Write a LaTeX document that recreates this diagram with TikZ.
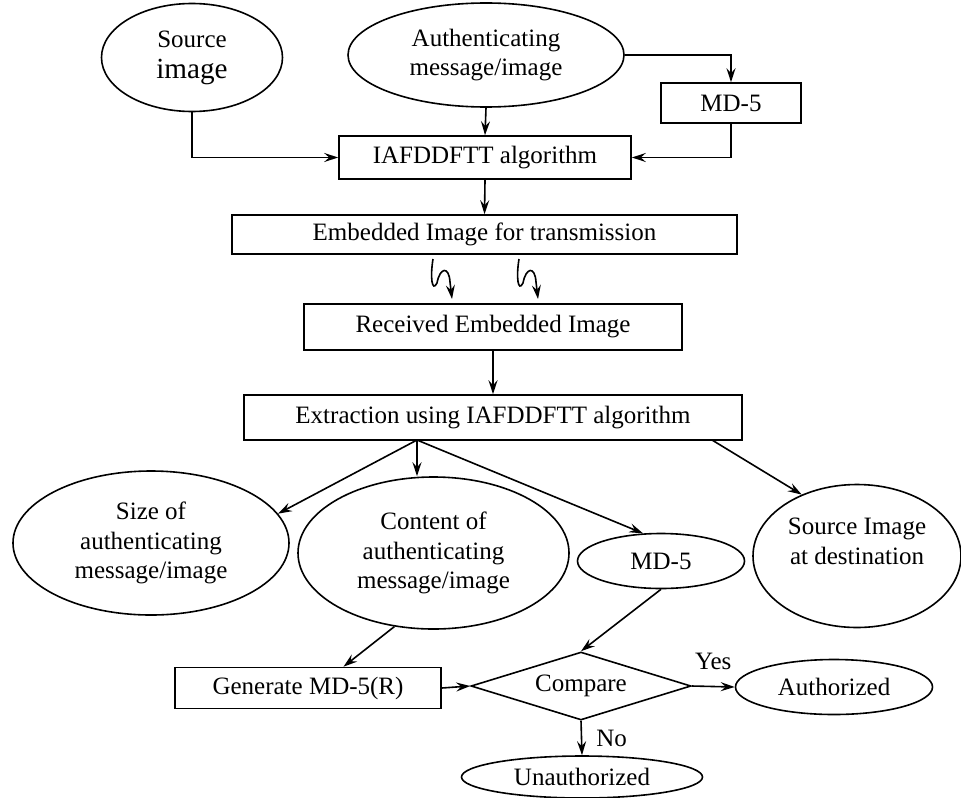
\documentclass[tikz,border=0pt]{standalone}
\usepackage{fontspec}
\setmainfont{Liberation Serif}
\usepackage{tikz}
\usetikzlibrary{arrows.meta, calc, positioning, shapes.geometric}

\begin{document}
\begin{tikzpicture}[x=0.5pt, y=-0.5pt,
    box/.style={draw, rectangle, inner sep=0pt, line width=0.8pt, font=\fontsize{12.5}{14.75}\selectfont},
    oval/.style={draw, ellipse, inner sep=0pt, align=center, line width=0.8pt, font=\fontsize{12.5}{14.75}\selectfont},
    arrow/.style={-{Stealth[length=7pt, width=4.5pt, inset=2.5pt]}, line width=0.8pt},
    tag/.style={inner sep=0pt, font=\fontsize{12.5}{14.75}\selectfont}
]
\useasboundingbox (0,0) rectangle (961,797);

% sender side
\node[oval, minimum width=90.5pt, minimum height=54pt] (src) at (192,57.5)
    {\mbox{}\\[-6pt]Source\\[1pt]{\fontsize{14.6}{16}\selectfont image}};
\node[oval, minimum width=138pt, minimum height=52pt] (msg) at (486,55)
    {Authenticating\\message/image};
\node[box, minimum width=70pt, minimum height=20pt] (hashA) at (731,103) {MD-5};
\node[box, minimum width=146pt, minimum height=21.5pt] (algo) at (485,157.5) {IAFDDFTT algorithm};
\node[box, minimum width=252.5pt, minimum height=19.5pt] (embed) at (484.5,234.5) {Embedded Image for transmission};

\draw[arrow] (src.south) |- (algo.west);
\draw[arrow] (msg.south) -- (algo.north);
\draw[arrow] (msg.east) -| (hashA.north);
\draw[arrow] (hashA.south) |- (algo.east);
\draw[arrow] (algo.south) -- (embed.north);

% channel
\foreach \dx/\n in {0/1, 86/2} {
  \coordinate (wave\n) at (433+\dx,259);
  \draw[arrow] (wave\n) .. controls +(-3,18) and +(-5,10) .. ++(4,24)
      .. controls +(3,-16) and +(-1,-16) .. ++(13,-1) -- ++(2,17);
}

% receiver side
\node[box, minimum width=189pt, minimum height=23pt] (recv) at (493,327) {Received Embedded Image};
\node[box, minimum width=249pt, minimum height=22.5pt] (extr) at (493,417.5) {Extraction using IAFDDFTT algorithm};
\draw[arrow] (recv.south) -- (extr.north);

\node[oval, minimum width=138pt, minimum height=72pt] (size) at (151,543)
    {Size of\\authenticating\\message/image};
\node[oval, minimum width=135.5pt, minimum height=76pt] (cont) at (433.5,553)
    {Content of\\authenticating\\message/image};
\node[oval, minimum width=83.5pt, minimum height=27.5pt] (hashB) at (661,561) {MD-5};
\node[oval, minimum width=104pt, minimum height=71.5pt] (dest) at (857,556)
    {Source Image\\at destination\\\mbox{}};

\coordinate (fan) at (417,440);
\coordinate (fanR) at (712,440);
\draw[arrow] (fan) -- (size.13);
\draw[arrow] (fan) -- (fan |- cont.north);
\draw[arrow] (fan) -- (hashB.123);
\draw[arrow] (fanR) -- (dest.132);

% verification
\node[box, minimum width=133pt, minimum height=20.5pt] (gen) at (308,688) {Generate MD-5(R)};
\node[draw, diamond, aspect=3.2, inner sep=0pt, line width=0.8pt, minimum width=110pt, minimum height=34pt,
      font=\fontsize{12.5}{14.75}\selectfont] (cmp) at (581,686) {Compare};
\node[oval, minimum width=98.5pt, minimum height=27.5pt] (ok) at (834,687) {Authorized};
\node[oval, minimum width=120.5pt, minimum height=21pt] (fail) at (582,777) {Unauthorized};

\draw[arrow] (cont.242) -- (gen.31);
\draw[arrow] (hashB.south) -- (cmp.north);
\draw[arrow] (gen.east) -- (cmp.west);
\draw[arrow] (cmp.east) -- node[tag, above=8pt] {Yes} (ok.west);
\draw[arrow] (cmp.south) -- node[tag, right=7pt] {No} (fail.north);
\end{tikzpicture}
\end{document}
